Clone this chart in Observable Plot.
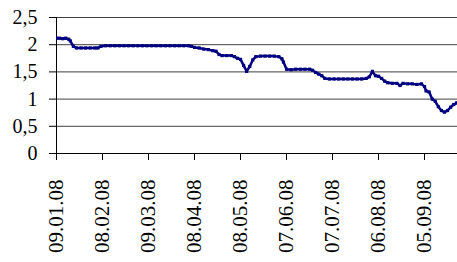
<!DOCTYPE html>
<html>
<head>
<meta charset="utf-8">
<script src="https://cdn.jsdelivr.net/npm/d3@7"></script>
<script src="https://cdn.jsdelivr.net/npm/@observablehq/plot@0.6"></script>
<style>
  html, body { margin: 0; padding: 0; background: #fff; font-family: "Liberation Serif", "Times New Roman", Tinos, "DejaVu Serif", serif; }
  svg { display: block; }
</style>
</head>
<body>
<div id="chart"></div>
<script>
const dates = [
  "2008-01-09","2008-01-11","2008-01-13","2008-01-15","2008-01-17","2008-01-18","2008-01-20","2008-01-22",
  "2008-01-25","2008-01-28","2008-01-31","2008-02-03","2008-02-05","2008-02-07","2008-02-10","2008-02-13",
  "2008-02-16","2008-02-19","2008-02-22","2008-02-25","2008-02-28","2008-03-02","2008-03-05","2008-03-08",
  "2008-03-11","2008-03-14","2008-03-17","2008-03-20","2008-03-23","2008-03-26","2008-03-29","2008-04-01",
  "2008-04-04","2008-04-06","2008-04-08","2008-04-11","2008-04-14","2008-04-17","2008-04-20","2008-04-22",
  "2008-04-24","2008-04-26","2008-04-29","2008-05-02","2008-05-04","2008-05-06","2008-05-08","2008-05-10",
  "2008-05-12","2008-05-14","2008-05-16","2008-05-18","2008-05-21","2008-05-24","2008-05-27","2008-05-30",
  "2008-06-02","2008-06-04","2008-06-05","2008-06-07","2008-06-10","2008-06-13","2008-06-16","2008-06-19",
  "2008-06-22","2008-06-24","2008-06-26","2008-06-28","2008-06-30","2008-07-02","2008-07-05","2008-07-08",
  "2008-07-11","2008-07-14","2008-07-17","2008-07-20","2008-07-23","2008-07-26","2008-07-29","2008-07-31",
  "2008-08-02","2008-08-04","2008-08-06","2008-08-08","2008-08-10","2008-08-12","2008-08-15","2008-08-18",
  "2008-08-20","2008-08-22","2008-08-25","2008-08-28","2008-08-31","2008-09-03","2008-09-05","2008-09-06",
  "2008-09-08","2008-09-10","2008-09-12","2008-09-14","2008-09-16","2008-09-18","2008-09-20","2008-09-22",
  "2008-09-24","2008-09-26"
];
const values = [
  2.12,2.12,2.11,2.12,2.10,2.07,1.97,1.94,
  1.94,1.94,1.94,1.94,1.94,1.97,1.98,1.98,
  1.98,1.98,1.98,1.98,1.98,1.98,1.98,1.98,
  1.98,1.98,1.98,1.98,1.98,1.98,1.98,1.98,
  1.98,1.97,1.95,1.94,1.92,1.91,1.89,1.88,
  1.82,1.80,1.80,1.80,1.78,1.75,1.73,1.62,
  1.51,1.60,1.72,1.78,1.79,1.79,1.79,1.79,
  1.78,1.74,1.68,1.55,1.54,1.55,1.55,1.55,
  1.55,1.53,1.49,1.46,1.43,1.38,1.37,1.37,
  1.37,1.37,1.37,1.37,1.37,1.37,1.38,1.41,
  1.51,1.43,1.42,1.38,1.33,1.30,1.29,1.29,
  1.25,1.29,1.28,1.28,1.27,1.28,1.23,1.15,
  1.13,1.00,0.96,0.86,0.79,0.76,0.79,0.85,
  0.90,0.93
];
const tickDates = ["2008-01-09","2008-02-08","2008-03-09","2008-04-08","2008-05-08","2008-06-07","2008-07-07","2008-08-06","2008-09-05"];
const tickLabels = ["09.01.08","08.02.08","09.03.08","08.04.08","08.05.08","07.06.08","07.07.08","06.08.08","05.09.08"];
const yTicks = [0, 0.5, 1, 1.5, 2, 2.5];
const yTickLabels = ["0", "0,5", "1", "1,5", "2", "2,5"];
const gridValues = [0.5, 1, 1.5, 2, 2.5];

const data = dates.map((d, i) => ({date: new Date(d), value: values[i]}));
const tickD = tickDates.map(d => new Date(d));
const labelFor = new Map(tickD.map((d, i) => [+d, tickLabels[i]]));
const yLabelFor = new Map(yTicks.map((v, i) => [v, yTickLabels[i]]));
const xStart = new Date("2008-01-09");
const xEnd = new Date("2008-09-26T12:00:00Z");
const navy = "#000080";
const serifStack = "Liberation Serif, Times New Roman, Tinos, DejaVu Serif, serif";

const chart = Plot.plot({
  width: 457,
  height: 262,
  marginLeft: 56,
  marginRight: 0,
  marginTop: 17,
  marginBottom: 109,
  style: {color: "#000", background: "#fff", overflow: "visible", fontFamily: "inherit"},
  x: {type: "utc", domain: [xStart, xEnd]},
  y: {domain: [0, 2.5]},
  marks: [
    Plot.ruleY(gridValues, {stroke: "#000", strokeWidth: 1, strokeOpacity: 0.75}),
    Plot.ruleY([0], {stroke: "#000", strokeWidth: 1}),
    Plot.ruleX([xStart], {stroke: "#000", strokeWidth: 1}),
    Plot.axisY({ticks: yTicks, tickFormat: v => yLabelFor.get(v), tickSize: 7, tickPadding: 12, fontSize: 20, label: null, stroke: "#000"}),
    Plot.axisX({ticks: tickD, tickFormat: d => labelFor.get(+d), tickRotate: -90, tickSize: 7, tickPadding: 19, fontSize: 21, label: null, stroke: "#000"}),
    Plot.line(data, {x: "date", y: "value", stroke: navy, strokeWidth: 2.5, clip: true}),
    Plot.dot(data, {x: "date", y: "value", symbol: "square", r: 1.8, fill: navy, stroke: "none", clip: true})
  ]
});
chart.setAttribute("font-family", serifStack);
chart.style.fontFamily = serifStack;
d3.select(chart).selectAll("g, text").attr("font-family", serifStack).style("font-family", serifStack);
document.getElementById("chart").appendChild(chart);
</script>
</body>
</html>
